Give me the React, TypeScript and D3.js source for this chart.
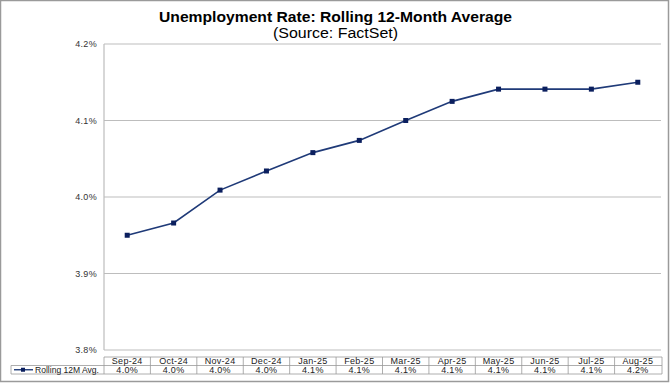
import React from "react";
import * as d3 from "d3";

const categories = ["Sep-24","Oct-24","Nov-24","Dec-24","Jan-25","Feb-25","Mar-25","Apr-25","May-25","Jun-25","Jul-25","Aug-25"];
const values = [3.950, 3.966, 4.009, 4.034, 4.058, 4.074, 4.100, 4.125, 4.141, 4.141, 4.141, 4.150];
const tableLabels = ["4.0%","4.0%","4.0%","4.0%","4.1%","4.1%","4.1%","4.1%","4.1%","4.1%","4.1%","4.2%"];
const yTicks = [3.8, 3.9, 4.0, 4.1, 4.2];
const seriesName = "Rolling 12M Avg.";
const title = "Unemployment  Rate: Rolling  12-Month Average";
const subtitle = "(Source:  FactSet)";

const W = 672, H = 384;
const M = { left: 104, right: 661, top: 44, bottom: 350 };
const FONT = "'Liberation Sans', Arial, sans-serif";
const LINE = "#1F3A78";
const MARK = "#0B1F5E";

export default function App() {
  const x = d3.scaleBand<string>().domain(categories).range([M.left, M.right]);
  const y = d3.scaleLinear().domain([3.8, 4.2]).range([M.bottom, M.top]);
  const line = d3.line<number>()
    .x((_, i) => (x(categories[i]) as number) + x.bandwidth() / 2)
    .y((d) => y(d));
  const tTop = 357, tMid = 365.5, tBot = 374;
  return (
    <svg width={W} height={H} style={{ position: "absolute", left: 0, top: 0, background: "#fff" }} fontFamily={FONT}>
      <rect x={0.5} y={0.5} width={668} height={381} fill="#fff" stroke="#9a9a9a" strokeWidth={1.5} />
      <text x={159} y={22} fontSize={14} fontWeight="bold" fill="#000" textLength={353} lengthAdjust="spacingAndGlyphs">{title}</text>
      <text x={273} y={38} fontSize={14} fill="#000" textLength={125} lengthAdjust="spacingAndGlyphs">{subtitle}</text>
      {yTicks.map((t) => (
        <g key={t}>
          <line x1={M.left} x2={M.right} y1={y(t)} y2={y(t)} stroke="#bdbdbd" strokeWidth={1.2} />
          <text x={97} y={y(t) + 3} textAnchor="end" fontSize={9} fill="#333" letterSpacing={0.3}>{t.toFixed(1)}%</text>
        </g>
      ))}
      <line x1={M.left} x2={M.left} y1={M.top} y2={M.bottom} stroke="#bdbdbd" strokeWidth={1.2} />
      <path d={line(values) || ""} fill="none" stroke={LINE} strokeWidth={1.6} />
      {values.map((v, i) => (
        <rect key={i} x={(x(categories[i]) as number) + x.bandwidth() / 2 - 2.5} y={y(v) - 2.5} width={5} height={5} fill={MARK} />
      ))}
      <g stroke="#999" strokeWidth={0.8} fill="none">
        <line x1={M.left} x2={M.right + 1} y1={tTop} y2={tTop} />
        <line x1={11} x2={M.right + 1} y1={tMid} y2={tMid} />
        <line x1={11} x2={M.right + 1} y1={tBot} y2={tBot} />
        <line x1={11} x2={11} y1={tMid} y2={tBot} />
        {categories.map((c) => (
          <line key={c} x1={x(c) as number} x2={x(c) as number} y1={tTop} y2={tBot} />
        ))}
        <line x1={M.right + 1} x2={M.right + 1} y1={tTop} y2={tBot} />
      </g>
      {categories.map((c, i) => (
        <g key={c}>
          <text x={(x(c) as number) + x.bandwidth() / 2} y={tMid - 1.3} textAnchor="middle" fontSize={9} fill="#222" letterSpacing={0.3}>{c}</text>
          <text x={(x(c) as number) + x.bandwidth() / 2} y={tBot - 1.3} textAnchor="middle" fontSize={9} fill="#222" letterSpacing={0.3}>{tableLabels[i]}</text>
        </g>
      ))}
      <line x1={14} x2={33} y1={(tMid + tBot) / 2} y2={(tMid + tBot) / 2} stroke={LINE} strokeWidth={1.4} />
      <rect x={21} y={(tMid + tBot) / 2 - 2} width={4} height={4} fill={MARK} />
      <text x={35} y={tBot - 1.3} fontSize={9} fill="#222" textLength={64} lengthAdjust="spacingAndGlyphs">{seriesName}</text>
    </svg>
  );
}
